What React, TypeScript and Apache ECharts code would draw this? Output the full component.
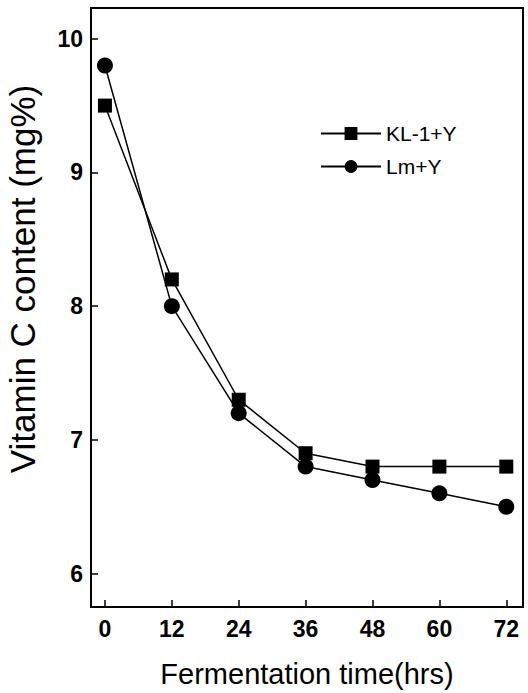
import React, { useEffect, useRef } from "react";
import * as echarts from "echarts";

const xTicks = [0, 12, 24, 36, 48, 60, 72];
const yTicks = [6, 7, 8, 9, 10];
const timeHours = [0, 12, 24, 36, 48, 60, 72];
const kl1Y = [9.5, 8.2, 7.3, 6.9, 6.8, 6.8, 6.8];
const lmY = [9.8, 8.0, 7.2, 6.8, 6.7, 6.6, 6.5];
const seriesNames = ["KL-1+Y", "Lm+Y"];
const xTitle = "Fermentation time(hrs)";
const yTitle = "Vitamin C content (mg%)";

const FONT = "'Liberation Sans', Arial, sans-serif";

export default function App() {
  const ref = useRef<HTMLDivElement>(null);
  useEffect(() => {
    if (!ref.current) return;
    const chart = echarts.init(ref.current, undefined, { renderer: "svg" });
    const axisCommon = {
      axisLine: { show: true, onZero: false, lineStyle: { color: "#000", width: 2 } },
      axisTick: { show: true, inside: true, length: 7, lineStyle: { color: "#000", width: 1.5 } },
      splitLine: { show: false },
      axisLabel: { color: "#000", fontSize: 23, fontWeight: "bold", fontFamily: FONT, margin: 8 },
    };
    chart.setOption({
      animation: false,
      backgroundColor: "#fff",
      grid: {
        left: 91,
        top: 8,
        right: 5,
        bottom: 82,
        show: true,
        borderColor: "#000",
        borderWidth: 2,
        backgroundColor: "transparent",
      },
      legend: {
        orient: "vertical",
        left: 320,
        top: 123,
        padding: 0,
        itemWidth: 60,
        itemHeight: 16,
        itemGap: 12,
        data: seriesNames,
        textStyle: { color: "#000", fontSize: 21, fontFamily: FONT, lineHeight: 20 },
      },
      graphic: [
        {
          type: "text",
          x: 22,
          y: 279,
          rotation: Math.PI / 2,
          style: {
            text: yTitle,
            fill: "#000",
            font: `35px ${FONT}`,
            align: "center",
            verticalAlign: "middle",
          },
        },
      ],
      xAxis: {
        type: "value",
        min: -2.5,
        max: 75,
        ...axisCommon,
        axisTick: { ...axisCommon.axisTick, customValues: xTicks },
        axisLabel: { ...axisCommon.axisLabel, margin: 10, customValues: xTicks },
        name: xTitle,
        nameLocation: "middle",
        nameGap: 52,
        nameTextStyle: { color: "#000", fontSize: 29, fontFamily: FONT },
      },
      yAxis: {
        type: "value",
        min: 5.75,
        max: 10.23,
        ...axisCommon,
        axisTick: { ...axisCommon.axisTick, customValues: yTicks },
        axisLabel: { ...axisCommon.axisLabel, customValues: yTicks },
      },
      series: [
        {
          name: seriesNames[0],
          type: "line",
          data: timeHours.map((t, i) => [t, kl1Y[i]]),
          symbol: "rect",
          symbolSize: 14,
          itemStyle: { color: "#000" },
          lineStyle: { color: "#000", width: 1.5 },
        },
        {
          name: seriesNames[1],
          type: "line",
          data: timeHours.map((t, i) => [t, lmY[i]]),
          symbol: "circle",
          symbolSize: 16,
          itemStyle: { color: "#000" },
          lineStyle: { color: "#000", width: 1.5 },
        },
      ],
    });
    return () => chart.dispose();
  }, []);
  return <div ref={ref} style={{ width: 528, height: 693, position: "absolute", left: 0, top: 0 }} />;
}
